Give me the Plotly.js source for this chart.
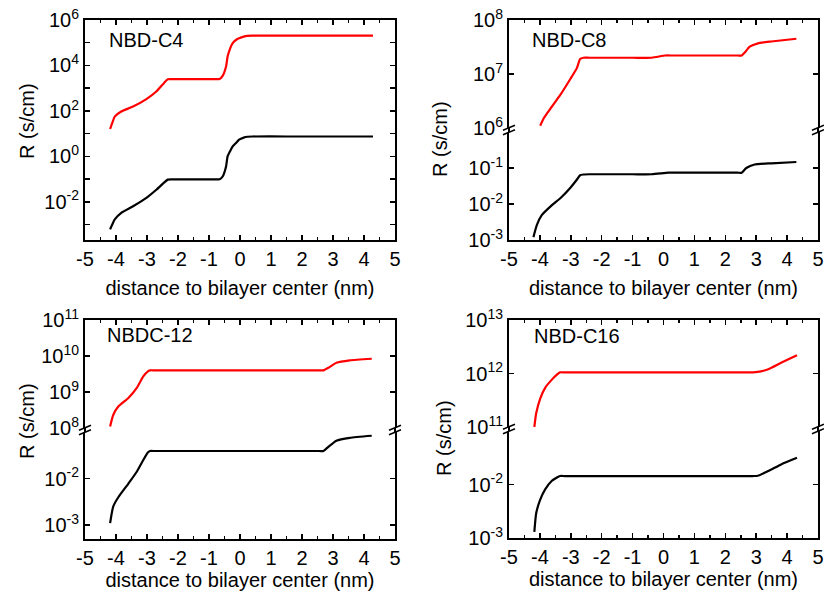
<!DOCTYPE html>
<html><head><meta charset="utf-8">
<script src="https://cdn.plot.ly/plotly-3.0.1.min.js"></script>
<style>html,body{margin:0;padding:0;background:#fff}#chart{width:824px;height:601px}</style>
</head><body><div id="chart"></div>
<script>
// ---------------- data ----------------
const xTickVals = [-5,-4,-3,-2,-1,0,1,2,3,4,5];
const xTickText = ['-5','-4','-3','-2','-1','0','1','2','3','4','5'];
const panelLabels = ['NBD-C4','NBD-C8','NBDC-12','NBD-C16'];
const xTitle = 'distance to bilayer center (nm)';
const yTitle = 'R (s/cm)';

// NBD-C4
const c4RedX = [-4.19,-4.12,-4.04,-3.83,-3.45,-3.02,-2.70,-2.45,-2.33,-2.2,-1.5,-0.75,-0.66,-0.56,-0.45,-0.40,-0.32,-0.24,-0.12,-0.03,0.12,0.24,0.40,1.5,3.0,4.29];
const c4RedR = [16,30,56,94,155,330,710,1700,2450,2500,2500,2500,2550,3460,8900,24500,55000,94000,135000,156000,185000,200000,205000,205000,205000,205000];
const c4BlackX = [-4.19,-4.12,-4.04,-3.83,-3.45,-3.02,-2.70,-2.45,-2.33,-2.2,-1.5,-0.75,-0.66,-0.56,-0.45,-0.40,-0.32,-0.24,-0.12,-0.03,0.12,0.24,0.40,1.5,3.0,4.29];
const c4BlackR = [6.1e-4,1.0e-3,1.7e-3,3.3e-3,6.4e-3,0.015,0.034,0.07,0.095,0.097,0.097,0.097,0.099,0.13,0.36,1.0,1.7,2.7,4.0,5.4,6.7,7.3,7.5,7.5,7.5,7.5];

// NBD-C8
const c8RedX = [-3.99,-3.88,-3.61,-3.34,-3.02,-2.80,-2.70,-2.59,-2.4,-1.0,-0.38,0.05,0.3,1.0,2.4,2.53,2.63,2.79,3.06,3.49,4.30];
const c8RedR = [1.1e6,1.5e6,2.5e6,4.1e6,8e6,1.3e7,1.9e7,2.0e7,2.0e7,2.0e7,2.0e7,2.2e7,2.2e7,2.2e7,2.2e7,2.2e7,2.5e7,3.2e7,3.7e7,4.0e7,4.5e7];
const c8BlackX = [-4.21,-4.10,-3.94,-3.61,-3.34,-3.02,-2.80,-2.70,-2.59,-2.4,-1.0,-0.38,0.16,0.4,1.0,2.4,2.53,2.68,2.95,3.49,4.30];
const c8BlackR = [1.2e-3,2.6e-3,4.9e-3,9.3e-3,0.0145,0.028,0.048,0.063,0.066,0.067,0.067,0.067,0.074,0.074,0.074,0.074,0.074,0.1,0.125,0.135,0.147];

// NBDC-12
const c12RedX = [-4.19,-4.09,-3.92,-3.60,-3.33,-3.12,-2.98,-2.90,-2.75,-1.0,1.0,2.55,2.69,2.85,3.11,3.54,4.25];
const c12RedR = [1.1e8,2.3e8,4e8,6.8e8,1.3e9,2.7e9,3.7e9,4e9,4e9,4e9,4e9,4e9,4e9,4.7e9,6.5e9,7.6e9,8.4e9];
const c12BlackX = [-4.19,-4.09,-3.92,-3.60,-3.33,-3.12,-2.98,-2.90,-2.75,-1.0,1.0,2.55,2.69,2.85,3.11,3.54,4.25];
const c12BlackR = [1.1e-3,2.5e-3,4e-3,7.8e-3,0.014,0.025,0.036,0.039,0.039,0.039,0.039,0.039,0.039,0.048,0.065,0.075,0.083];

// NBD-C16
const c16RedX = [-4.18,-4.12,-3.99,-3.83,-3.62,-3.45,-3.35,-3.2,-1.0,1.0,2.9,3.05,3.39,3.82,4.32];
const c16RedR = [1e11,1.8e11,3.4e11,5.4e11,7.6e11,9.5e11,1.05e12,1.05e12,1.05e12,1.05e12,1.05e12,1.07e12,1.2e12,1.6e12,2.2e12];
const c16BlackX = [-4.18,-4.12,-3.99,-3.83,-3.62,-3.45,-3.35,-3.2,-1.0,1.0,2.9,3.05,3.39,3.82,4.32];
const c16BlackR = [1.3e-3,2.9e-3,5.2e-3,8.1e-3,0.0116,0.0135,0.0144,0.0144,0.0144,0.0144,0.0144,0.0146,0.0178,0.024,0.0316];

// y tick exponents: labelled (major) and unlabelled (minor)
const c4YLabelExp = [-2,0,2,4,6];
const c4YMinorExp = [-3,-1,1,3,5];
const c8UpperExp = [6,7,8];
const c8LowerExp = [-3,-2,-1];
const c12UpperExp = [8,9,10,11];
const c12LowerExp = [-3,-2];
const c16UpperExp = [11,12,13];
const c16LowerExp = [-3,-2];

// ---------------- layout helpers ----------------
const W = 824, H = 601;
const FONT = 'Liberation Sans, Arial, sans-serif';
const px = x => x / W;
const py = y => 1 - y / H;
const supLabel = e => '10<sup>' + (e < 0 ? '-' + (-e) : String(e)) + '</sup>';

function yAxis(exps, minorExps, range, domainPx, anchor) {
  const a = {
    type: 'log', range: range, domain: [py(domainPx[1]), py(domainPx[0])], anchor: anchor,
    tickmode: 'array', tickvals: exps.map(e => Math.pow(10, e)),
    ticktext: exps.map(supLabel),
    ticks: 'inside', ticklen: 5, tickwidth: 1.5, tickcolor: '#000',
    showline: true, linewidth: 2, linecolor: '#000', mirror: 'ticks',
    showgrid: false, zeroline: false, fixedrange: true,
    tickfont: {family: FONT, size: 20, color: '#000'}
  };
  if (minorExps) {
    a.minor = {tickmode: 'array', tickvals: minorExps.map(e => Math.pow(10, e)),
      ticks: 'inside', ticklen: 5, tickwidth: 1.5, tickcolor: '#000', showgrid: false};
  }
  return a;
}
function xAxis(domainPx, anchor, opts) {
  const a = {
    range: [-5, 5], domain: [px(domainPx[0]), px(domainPx[1])], anchor: anchor,
    tickmode: 'array', tickvals: xTickVals, ticktext: xTickText,
    ticks: 'inside', ticklen: 5, tickwidth: 1.5, tickcolor: '#000',
    minor: {tickmode: 'linear', tick0: -5, dtick: 0.5, ticks: 'inside', ticklen: 3, tickwidth: 1.5, tickcolor: '#000', showgrid: false},
    showline: true, linewidth: 2, linecolor: '#000',
    showgrid: false, zeroline: false, fixedrange: true,
    tickfont: {family: FONT, size: 20, color: '#000'}
  };
  return Object.assign(a, opts || {});
}
const xtTop = {text: xTitle, font: {family: FONT, size: 20, color: '#000'}, standoff: 12};
const xtBot = {text: xTitle, font: {family: FONT, size: 20, color: '#000'}, standoff: 1};

const layout = {
  width: W, height: H, margin: {l: 0, r: 0, t: 0, b: 0},
  paper_bgcolor: '#fff', plot_bgcolor: '#fff', showlegend: false,
  font: {family: FONT, size: 20, color: '#000'},
  // panel 1
  xaxis: xAxis([85, 395], 'y', {mirror: 'ticks', title: xtTop}),
  yaxis: yAxis(c4YLabelExp, c4YMinorExp, [-3.68, 6], [20, 240], 'x'),
  // panel 2
  xaxis2: xAxis([509, 818], 'y2', {title: xtTop}),
  yaxis2: yAxis(c8LowerExp, null, [-3, 0], [132, 240], 'x2'),
  xaxis3: xAxis([509, 818], 'y3', {side: 'top', showticklabels: false}),
  yaxis3: yAxis(c8UpperExp, null, [6, 8], [20, 128], 'x3'),
  // panel 3
  xaxis4: xAxis([85, 395], 'y4', {title: xtBot}),
  yaxis4: yAxis(c12LowerExp, null, [-3.3, -1], [432, 539], 'x4'),
  xaxis5: xAxis([85, 395], 'y5', {side: 'top', showticklabels: false}),
  yaxis5: yAxis(c12UpperExp, null, [8, 11], [320, 428], 'x5'),
  // panel 4
  xaxis6: xAxis([509, 818], 'y6', {title: xtBot}),
  yaxis6: yAxis(c16LowerExp, null, [-3, -1], [431, 538], 'x6'),
  xaxis7: xAxis([509, 818], 'y7', {side: 'top', showticklabels: false}),
  yaxis7: yAxis(c16UpperExp, null, [11, 13], [320, 427], 'x7'),
  shapes: [], annotations: []
};

// continuous frame lines through the axis breaks + break marks
function breakDecor(x0, x1, yUpperBottom, yLowerTop) {
  const yc = (yUpperBottom + yLowerTop) / 2;
  [x0, x1].forEach(xe => {
    layout.shapes.push({type: 'line', xref: 'paper', yref: 'paper', x0: px(xe), x1: px(xe), y0: py(yUpperBottom), y1: py(yLowerTop), line: {color: '#000', width: 2}});
    [-2.3, 2.3].forEach(d => {
      layout.shapes.push({type: 'line', xref: 'paper', yref: 'paper',
        x0: px(xe - 6), y0: py(yc + d + 2.5), x1: px(xe + 6), y1: py(yc + d - 2.5),
        line: {color: '#000', width: 1.5}});
    });
  });
}
breakDecor(509, 818, 128, 132);
breakDecor(85, 395, 428, 432);
breakDecor(509, 818, 427, 431);

// panel labels
[[107, 40], [530, 40], [105, 335], [532, 336]].forEach((p, i) => {
  layout.annotations.push({text: panelLabels[i], xref: 'paper', yref: 'paper', x: px(p[0]), y: py(p[1]),
    xanchor: 'left', yanchor: 'middle', showarrow: false, font: {family: FONT, size: 20, color: '#000'}});
});
// y titles
[[27, 121], [440, 139], [27, 421], [444, 438]].forEach(p => {
  layout.annotations.push({text: yTitle, xref: 'paper', yref: 'paper', x: px(p[0]), y: py(p[1]),
    xanchor: 'center', yanchor: 'middle', textangle: -90, showarrow: false, font: {family: FONT, size: 20, color: '#000'}});
});

function tr(x, y, color, xa, ya) {
  return {x: x, y: y, xaxis: xa, yaxis: ya, type: 'scatter', mode: 'lines',
    line: {color: color, width: 2.2, shape: 'spline', smoothing: 0.5}, hoverinfo: 'skip'};
}
const data = [
  tr(c4RedX, c4RedR, '#ff0000', 'x', 'y'),
  tr(c4BlackX, c4BlackR, '#000000', 'x', 'y'),
  tr(c8RedX, c8RedR, '#ff0000', 'x3', 'y3'),
  tr(c8BlackX, c8BlackR, '#000000', 'x2', 'y2'),
  tr(c12RedX, c12RedR, '#ff0000', 'x5', 'y5'),
  tr(c12BlackX, c12BlackR, '#000000', 'x4', 'y4'),
  tr(c16RedX, c16RedR, '#ff0000', 'x7', 'y7'),
  tr(c16BlackX, c16BlackR, '#000000', 'x6', 'y6')
];

Plotly.newPlot('chart', data, layout, {displayModeBar: false, staticPlot: true});
</script>
</body></html>
